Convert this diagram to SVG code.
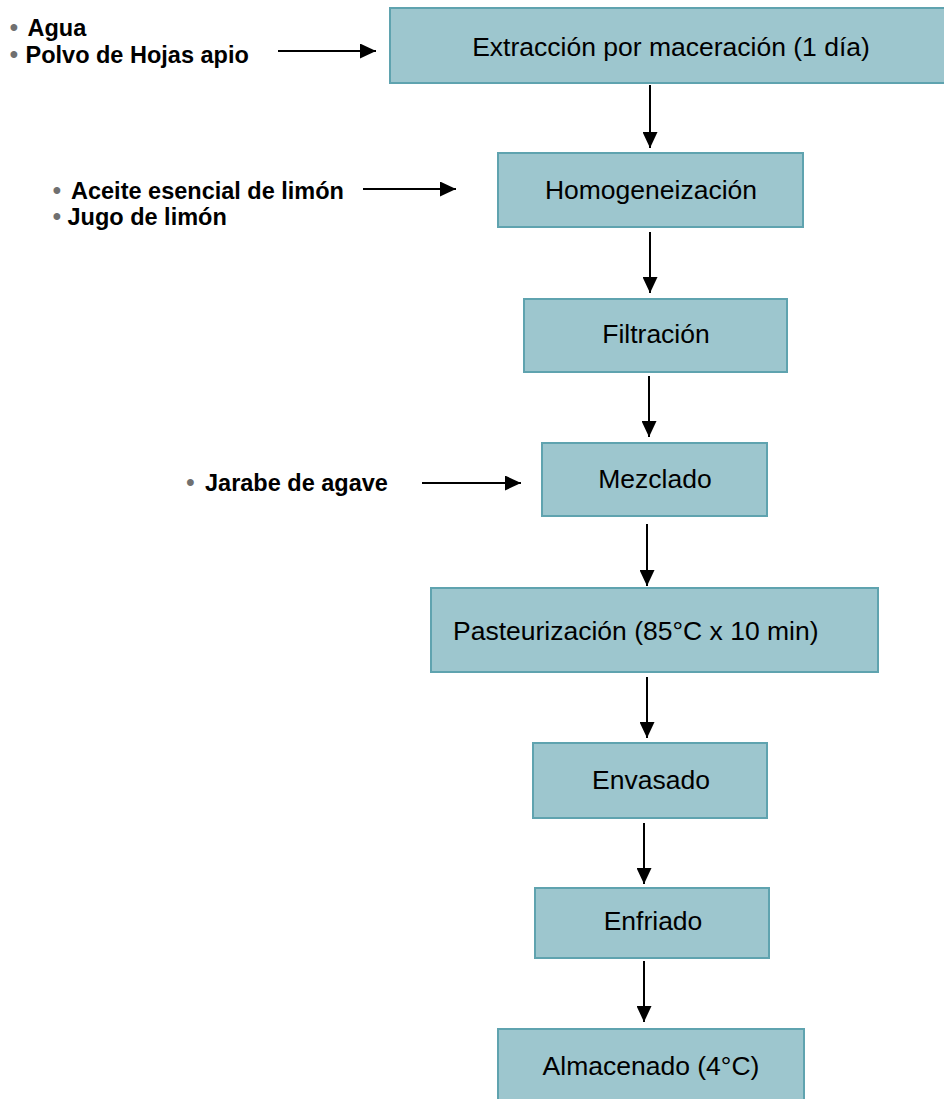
<svg xmlns="http://www.w3.org/2000/svg" width="944" height="1099" viewBox="0 0 944 1099">
<style>
.box{fill:#9DC6CE;stroke:#5FA3AF;stroke-width:2}
.t{font-family:"Liberation Sans",Arial,sans-serif;font-size:26.5px;fill:#000}
.c{text-anchor:middle}
.lb{font-family:"Liberation Sans",Arial,sans-serif;font-size:23.5px;font-weight:bold;fill:#000}
.bu{font-size:25px;font-weight:normal;fill:#707070}
.ar{stroke:#000;stroke-width:2;fill:none;marker-end:url(#ah)}
</style>
<defs>
<marker id="ah" markerUnits="userSpaceOnUse" markerWidth="16" markerHeight="15" refX="16" refY="7.5" orient="auto">
<path d="M0,0 L16,7.5 L0,15 z" fill="#000"/>
</marker>
</defs>
<rect width="944" height="1099" fill="#fff"/>
<g id="inputs">
<g id="in-agua"><text class="lb" x="9.5" y="36.4"><tspan class="bu">•</tspan><tspan x="27.5">Agua</tspan></text></g>
<g id="in-polvo"><text class="lb" x="9.5" y="63"><tspan class="bu">•</tspan><tspan x="25.5">Polvo de Hojas apio</tspan></text></g>
<g id="in-aceite"><text class="lb" x="52.5" y="198.5"><tspan class="bu">•</tspan><tspan x="71">Aceite esencial de limón</tspan></text></g>
<g id="in-jugo"><text class="lb" x="52.5" y="225"><tspan class="bu">•</tspan><tspan x="67.5">Jugo de limón</tspan></text></g>
<g id="in-jarabe"><text class="lb" x="186" y="490.5"><tspan class="bu">•</tspan><tspan x="205">Jarabe de agave</tspan></text></g>
</g>
<g id="n1"><rect class="box" x="390" y="8" width="570" height="75"/><text class="t c" x="671" y="56">Extracción por maceración (1 día)</text></g>
<g id="n2"><rect class="box" x="498" y="153" width="305" height="74"/><text class="t c" x="651" y="199">Homogeneización</text></g>
<g id="n3"><rect class="box" x="524" y="299" width="263" height="73"/><text class="t c" x="656" y="343">Filtración</text></g>
<g id="n4"><rect class="box" x="542" y="443" width="225" height="73"/><text class="t c" x="655" y="488">Mezclado</text></g>
<g id="n5"><rect class="box" x="431" y="588" width="447" height="84"/><text class="t" x="453" y="640">Pasteurización (85°C x 10 min)</text></g>
<g id="n6"><rect class="box" x="533" y="743" width="234" height="75"/><text class="t c" x="651" y="789">Envasado</text></g>
<g id="n7"><rect class="box" x="535" y="888" width="234" height="70"/><text class="t c" x="653" y="930">Enfriado</text></g>
<g id="n8"><rect class="box" x="498" y="1029" width="306" height="90"/><text class="t c" x="651" y="1075">Almacenado (4°C)</text></g>
<g id="connectors">
<line class="ar" x1="278" y1="51" x2="376" y2="51"/>
<line class="ar" x1="363" y1="189" x2="456" y2="189"/>
<line class="ar" x1="422" y1="483" x2="521" y2="483"/>
<line class="ar" x1="650" y1="85" x2="650" y2="148"/>
<line class="ar" x1="650" y1="232" x2="650" y2="293"/>
<line class="ar" x1="649" y1="376" x2="649" y2="437"/>
<line class="ar" x1="647" y1="524" x2="647" y2="586"/>
<line class="ar" x1="647" y1="677" x2="647" y2="738"/>
<line class="ar" x1="644" y1="823" x2="644" y2="884"/>
<line class="ar" x1="644" y1="961" x2="644" y2="1022"/>
</g>
</svg>
